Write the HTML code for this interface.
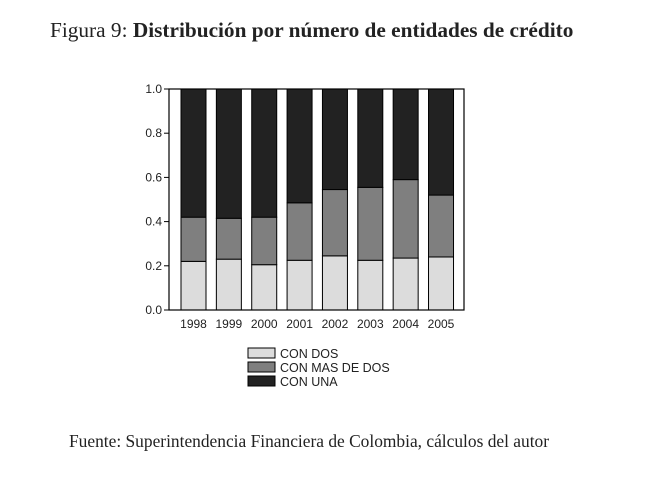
<!DOCTYPE html>
<html><head><meta charset="utf-8"><style>
body{margin:0;background:#fff;width:653px;height:486px;overflow:hidden;position:relative}
.t{position:absolute;font-family:"Liberation Serif",serif;color:#222;white-space:nowrap}
</style></head><body>
<div class="t" style="left:50px;top:18px;font-size:21.3px">Figura 9: <b>Distribución por número de entidades de crédito</b></div>
<div class="t" style="left:69px;top:431px;font-size:17.4px">Fuente: Superintendencia Financiera de Colombia, cálculos del autor</div>
<svg id="c" width="653" height="486" style="position:absolute;left:0;top:0"></svg>
<script>
const years=["1998","1999","2000","2001","2002","2003","2004","2005"];
const conDos=[0.22,0.23,0.205,0.225,0.245,0.225,0.235,0.24];
const conMasDeDos=[0.20,0.185,0.215,0.26,0.30,0.33,0.355,0.28];
const conUna=[0.58,0.585,0.58,0.515,0.455,0.445,0.41,0.48];
const yTicks=[0,0.2,0.4,0.6,0.8,1.0];
const yTickLabels=["0.0","0.2","0.4","0.6","0.8","1.0"];
const seriesNames=["CON DOS","CON MAS DE DOS","CON UNA"];
const colors=["#dcdcdc","#7f7f7f","#222222"];
const svg=document.getElementById('c');const NS="http://www.w3.org/2000/svg";
const L=169,R=464,T=89,B=310;
const y=v=>B-v*(B-T);
const xc=i=>193.5+i*35.36;
function mk(t,a){const e=document.createElementNS(NS,t);for(const k in a)e.setAttribute(k,a[k]);svg.appendChild(e);return e;}
const series=[conDos,conMasDeDos,conUna];
years.forEach((yr,i)=>{let base=0;series.forEach((s,j)=>{
 const r=mk('rect',{x:xc(i)-12.5,y:y(base+s[i]),width:25,height:y(base)-y(base+s[i]),fill:colors[j],stroke:'#000','stroke-width':1});
 
 
 base+=s[i];});
 const t=mk('text',{x:xc(i),y:B+18,'text-anchor':'middle','font-family':'Liberation Sans, sans-serif','font-size':12,fill:'#222'});t.textContent=yr;
 
 
});
const f=mk('rect',{x:L,y:T,width:R-L,height:B-T,fill:'none',stroke:'#000','stroke-width':1.2});


yTicks.forEach((v,i)=>{mk('line',{x1:L-5,x2:L,y1:y(v),y2:y(v),stroke:'#000'});
 const t=mk('text',{x:L-7,y:y(v)+4,'text-anchor':'end','font-family':'Liberation Sans, sans-serif','font-size':12,fill:'#222'});t.textContent=yTickLabels[i];
 
 });
seriesNames.forEach((n,j)=>{const yy=348+j*14;
 const r=mk('rect',{x:248,y:yy,width:27,height:10,fill:colors[j],stroke:'#000'});
 
 
 const t=mk('text',{x:280,y:yy+10,'font-family':'Liberation Sans, sans-serif','font-size':12.5,fill:'#222'});t.textContent=n;
 
 });
</script>
</body></html>
